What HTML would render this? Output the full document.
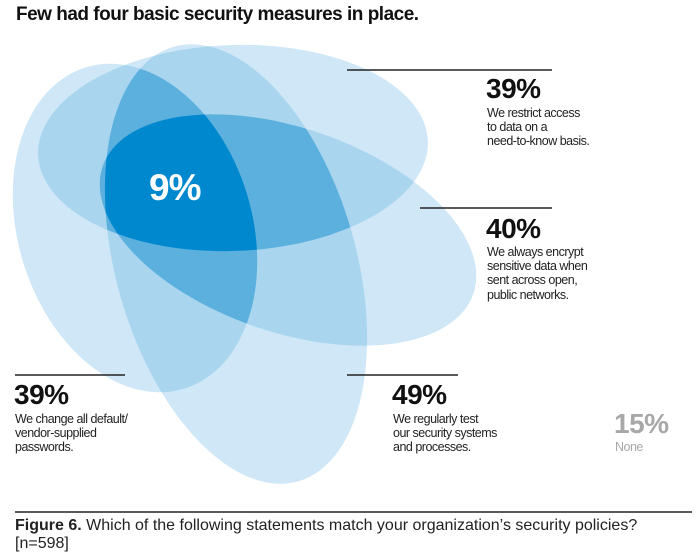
<!DOCTYPE html>
<html><head><meta charset="utf-8">
<style>
body{margin:0;background:#fff;}
#wrap{position:relative;width:700px;height:560px;overflow:hidden;font-family:"Liberation Sans",sans-serif;}
svg{position:absolute;left:0;top:0;}
.t{position:absolute;color:#111;}
.big{font-weight:bold;font-size:28px;letter-spacing:-0.5px;line-height:26px;}
.desc{font-size:12.5px;line-height:14.2px;letter-spacing:-0.5px;color:#222;}
</style></head><body>
<div id="wrap">
<svg id="svg" width="700" height="560"></svg>
<div class="t" style="left:16px;top:4px;font-weight:bold;font-size:19px;letter-spacing:-0.5px;">Few had four basic security measures in place.</div>

<div class="t big" style="left:486px;top:76px;">39%</div>
<div class="t desc" style="left:487px;top:106px;">We restrict access<br>to data on a<br>need-to-know basis.</div>

<div class="t big" style="left:486px;top:216px;">40%</div>
<div class="t desc" style="left:487px;top:245px;">We always encrypt<br>sensitive data when<br>sent across open,<br>public networks.</div>

<div class="t big" style="left:14px;top:382px;">39%</div>
<div class="t desc" style="left:15px;top:412px;">We change all default/<br>vendor-supplied<br>passwords.</div>

<div class="t big" style="left:392px;top:382px;">49%</div>
<div class="t desc" style="left:393px;top:412px;">We regularly test<br>our security systems<br>and processes.</div>

<div class="t big" style="left:614px;top:411px;color:#a8a8a8;">15%</div>
<div class="t desc" style="left:615px;top:440px;color:#a8a8a8;">None</div>

<div class="t" style="left:149px;top:167px;color:#fff;font-weight:bold;font-size:37px;letter-spacing:-1px;">9%</div>

<div class="t" style="left:15px;top:517px;font-size:16px;line-height:18px;color:#222;"><b>Figure 6.</b> Which of the following statements match your organization’s security policies?<br>[n=598]</div>
</div>
<script>
const setNames=["restrict","encrypt","passwords","testing"];
const setValues=[39,40,39,49];
const ellipses=[
 {cx:233,cy:148,rx:195,ry:103,rot:-2},
 {cx:288,cy:230,rx:196,ry:102,rot:19},
 {cx:135,cy:228,rx:117,ry:168,rot:-17},
 {cx:236,cy:264,rx:120,ry:226,rot:-16}
];
const levelColors=["#cfe7f6","#a9d5ef","#5cb0de","#0088cf"];
const NS="http://www.w3.org/2000/svg";
const svg=document.getElementById('svg');
const defs=document.createElementNS(NS,'defs');svg.appendChild(defs);
function mk(e){const el=document.createElementNS(NS,'ellipse');
 el.setAttribute('cx',e.cx);el.setAttribute('cy',e.cy);el.setAttribute('rx',e.rx);el.setAttribute('ry',e.ry);
 el.setAttribute('transform','rotate('+e.rot+' '+e.cx+' '+e.cy+')');return el;}
ellipses.forEach((e,i)=>{const cp=document.createElementNS(NS,'clipPath');cp.setAttribute('id','c'+i);cp.appendChild(mk(e));defs.appendChild(cp);});
function combos(n,k,s=0,cur=[],out=[]){if(cur.length===k){out.push(cur.slice());return out;}for(let i=s;i<n;i++){cur.push(i);combos(n,k,i+1,cur,out);cur.pop();}return out;}
for(let k=1;k<=4;k++){
 combos(4,k).forEach(c=>{
  let shape=mk(ellipses[c[c.length-1]]);
  shape.setAttribute('fill',levelColors[k-1]);
  
  
  let node=shape;
  for(let j=c.length-2;j>=0;j--){const g=document.createElementNS(NS,'g');g.setAttribute('clip-path','url(#c'+c[j]+')');g.appendChild(node);node=g;}
  svg.appendChild(node);
 });
}
const lines=[[347,552,70],[420,552,208],[15,125,375],[347,458,375]];
const lnames=['restrict-leader','encrypt-leader','passwords-leader','testing-leader'];
lines.forEach((l,i)=>{const ln=document.createElementNS(NS,'line');
 ln.setAttribute('x1',l[0]);ln.setAttribute('x2',l[1]);ln.setAttribute('y1',l[2]);ln.setAttribute('y2',l[2]);
 ln.setAttribute('stroke','#222');ln.setAttribute('stroke-width','1.5');
 
 
 svg.appendChild(ln);});
const rule=document.createElementNS(NS,'line');
rule.setAttribute('x1',15);rule.setAttribute('x2',692);rule.setAttribute('y1',512);rule.setAttribute('y2',512);
rule.setAttribute('stroke','#222');rule.setAttribute('stroke-width','1.5');


svg.appendChild(rule);
</script>
</body></html>
